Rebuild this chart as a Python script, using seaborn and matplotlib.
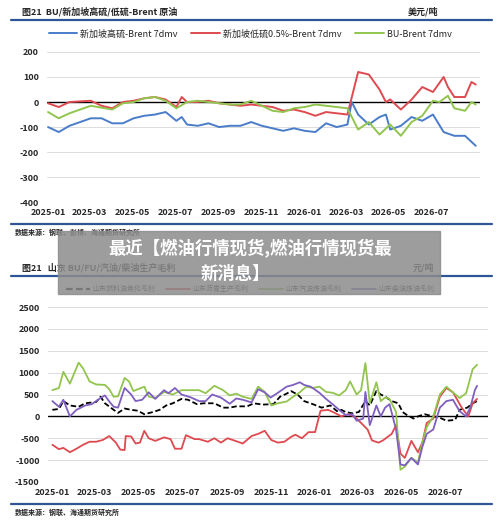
import numpy as np, pandas as pd
import matplotlib
matplotlib.use("Agg")
import matplotlib.pyplot as plt
import seaborn as sns

sns.set_style("white")
plt.rcParams['font.family'] = ['Noto Sans CJK SC', 'DejaVu Sans']
plt.rcParams['axes.unicode_minus'] = False

# ---- top chart data (months since 2025-01, USD/t) ----
hs_m = [0,.5,1,1.5,2,2.5,3,3.5,4,4.5,5,5.5,6,6.25,6.5,7,7.5,8,8.5,9,9.5,10,10.5,11,11.5,12,12.5,13,13.5,14,14.2,14.5,15,15.5,15.8,16,16.5,17,17.5,18,18.5,19,19.5,20]
hs_v = [-100,-120,-95,-80,-65,-65,-85,-85,-65,-55,-50,-40,-75,-60,-90,-95,-85,-100,-95,-95,-80,-95,-105,-115,-105,-115,-120,-85,-100,-90,0,-50,-90,-60,-50,-110,-95,-60,-75,-50,-120,-135,-135,-175]
ls_m = [0,.5,1,2,2.5,3,3.5,4,4.5,5,5.5,6,6.25,6.5,7,7.5,8,8.5,9,9.5,10,10.5,11,11.5,12,12.5,13,13.5,14,14.5,15,15.5,15.8,16,16.5,17,17.5,18,18.5,18.7,19,19.5,19.8,20]
ls_v = [-5,-20,0,5,-15,-25,0,5,15,20,10,-20,20,0,0,5,-5,-10,-15,-10,-15,-20,-35,-30,-40,-55,-40,-45,-50,120,110,50,0,10,-30,10,60,40,100,60,20,20,80,70]
bu_m = [0,.5,1,1.5,2,3,3.5,4,4.5,5,5.5,6,6.5,7,7.5,8,8.5,9,9.5,10,10.5,11,11.5,12,12.5,13,13.5,14,14.5,15,15.5,16,16.5,17,17.5,18,18.3,18.7,19,19.5,19.8,20]
bu_v = [-40,-65,-45,-30,-15,-30,-5,0,15,20,5,-25,0,5,0,-5,-10,-10,5,-15,-35,-40,-25,-20,-10,-15,-20,-25,-110,-80,-130,-90,-135,-80,-55,5,0,25,-25,-35,0,-10]
top_names = ['新加坡高硫-Brent 7dmv', '新加坡低硫0.5%-Brent 7dmv', 'BU-Brent 7dmv']

# ---- bottom chart data (months since 2025-01, CNY/t) ----
gas_m = [0,.3,.5,.8,1.2,1.4,1.7,2.0,2.4,2.6,2.8,3.0,3.3,3.5,3.7,4.2,4.4,4.7,5.1,5.5,5.9,6.2,6.7,7.0,7.4,7.8,8.1,8.4,8.7,9.1,9.4,9.7,10.0,10.3,10.7,11.0,11.3,11.6,11.9,12.2,12.5,12.8,13.1,13.4,13.6,13.9,14.1,14.3,14.5,14.8,15.0,15.2,15.4,15.7,15.9,16.1,16.4,16.7,16.9,17.1,17.4,17.7,18.0,18.3,18.6,18.9,19.2,19.4]
gas_v = [600,650,1020,750,1230,1100,800,730,720,620,450,460,880,800,580,680,450,420,560,500,600,600,600,530,700,600,480,520,450,400,680,560,250,300,340,450,550,680,650,680,560,540,480,600,800,500,600,1220,300,780,350,430,400,100,-1220,-1150,-950,-1050,-600,-250,0,500,680,550,420,530,1080,1180]
die_m = [0,.3,.5,.8,1.1,1.5,1.8,2.2,2.4,2.6,2.8,3.0,3.3,3.6,3.8,4.1,4.4,4.7,5.1,5.3,5.6,5.9,6.3,6.7,7.0,7.3,7.7,8.1,8.4,8.7,9.1,9.4,9.7,9.97,10.3,10.7,11.0,11.3,11.5,11.8,12.2,12.5,12.8,13.1,13.4,13.7,13.9,14.2,14.3,14.5,14.8,15.0,15.2,15.4,15.7,15.9,16.1,16.4,16.7,16.9,17.1,17.4,17.7,18.0,18.3,18.6,18.9,19.1,19.3,19.4]
die_v = [350,220,380,0,150,250,280,420,480,340,220,200,650,500,350,380,550,400,600,530,650,500,440,350,350,500,430,290,410,380,320,620,550,430,540,680,720,780,720,680,540,400,280,150,30,50,-100,-50,560,-200,250,0,200,280,-300,-1100,-1120,-950,-1100,-700,-400,-300,200,350,380,120,0,220,600,700]
asp_m = [0,.3,.5,.8,1.1,1.4,1.7,2.0,2.3,2.6,2.9,3.1,3.3,3.35,3.6,3.8,4.0,4.2,4.4,4.7,5.1,5.4,5.6,5.9,6.1,6.5,6.7,7.1,7.4,7.7,8.0,8.3,8.7,9.1,9.4,9.7,10.0,10.3,10.6,10.9,11.1,11.4,11.7,12.0,12.25,12.6,12.9,13.2,13.5,13.8,14.1,14.4,14.6,14.9,15.1,15.5,15.7,15.9,16.1,16.4,16.7,16.9,17.1,17.4,17.7,18.0,18.3,18.7,19.0,19.2,19.4]
asp_v = [-650,-750,-720,-820,-740,-650,-580,-580,-540,-450,-600,-760,-770,-450,-460,-620,-600,-330,-500,-560,-480,-520,-740,-740,-430,-520,-520,-580,-500,-600,-500,-550,-620,-450,-400,-330,-540,-600,-580,-470,-420,-500,-360,-360,130,150,80,0,50,0,-150,-300,-550,-600,-550,-400,-200,-850,-950,-560,-820,-600,-150,-50,450,650,550,200,0,300,400]
fu_m = [0,.3,.5,.8,1.2,1.5,2.0,2.2,2.4,2.8,3.0,3.3,3.6,3.9,4.2,4.6,4.9,5.2,5.5,5.9,6.2,6.6,6.9,7.4,7.8,8.1,8.4,8.9,9.2,9.6,10.1,10.4,10.7,10.9,11.2,11.5,11.9,12.3,12.7,13.0,13.2,13.4,13.7,14.0,14.3,14.5,14.8,15.0,15.2,15.5,15.8,16.0,16.2,16.5,16.7,17.0,17.4,17.7,18.0,18.4,18.6,18.95,19.2,19.4]
fu_v = [150,170,350,250,220,300,330,450,300,150,80,180,150,130,50,100,150,250,300,400,380,280,300,300,200,200,230,230,300,270,280,450,520,580,500,350,280,200,250,120,150,100,70,100,350,250,580,500,450,350,300,100,30,-50,0,50,0,-30,-100,-80,150,200,300,350]
bot_names = ['山东燃料油焦化毛利', '山东沥青生产毛利', '山东汽油炼油毛利', '山东柴油炼油毛利']
tick_months = ['2025-01', '2025-03', '2025-05', '2025-07', '2025-09', '2025-11', '2026-01', '2026-03', '2026-05', '2026-07']

BLUE, RED, GREEN, PURPLE = '#4a7cc9', '#de4a4f', '#92c54e', '#7f5fbf'
RULE = '#2f5597'

def todate(m):
    return pd.Timestamp('2025-01-01') + pd.to_timedelta(np.array(m) * 30.44, unit='D')

def frame(m, v, name):
    return pd.DataFrame({'date': todate(m), 'val': v, 'series': name})

fig = plt.figure(figsize=(5, 5.25), dpi=100)
fig.patch.set_facecolor('white')

def style_axes(ax, yt, xlim):
    ax.set_xlim(todate([xlim[0]])[0], todate([xlim[1]])[0])
    ax.set_yticks(yt)
    ax.set_ylim(yt[0], yt[-1])
    ax.yaxis.grid(True, color='#dcdcdc', lw=0.7)
    ax.set_xticks([pd.Timestamp(t + '-01') for t in tick_months])
    ax.set_xticklabels(tick_months)
    for s in ax.spines.values():
        s.set_visible(False)
    ax.axhline(0, color='black', lw=1.0, zorder=1)
    ax.tick_params(axis='x', length=0, labelsize=6.5, pad=4)
    ax.tick_params(axis='y', length=0, labelsize=6.5, pad=6)
    for t in ax.get_xticklabels() + ax.get_yticklabels():
        t.set_fontweight('bold')
    ax.set_xlabel(''); ax.set_ylabel('')
    if ax.get_legend():
        ax.get_legend().remove()

ax1 = fig.add_axes([0.094, 0.615, 0.866, 0.286])
df1 = pd.concat([frame(hs_m, hs_v, top_names[0]), frame(ls_m, ls_v, top_names[1]), frame(bu_m, bu_v, top_names[2])])
sns.lineplot(data=df1, x='date', y='val', hue='series', palette=[BLUE, RED, GREEN], lw=1.4, ax=ax1)
style_axes(ax1, [-400, -300, -200, -100, 0, 100, 200], (-0.05, 20.2))
h1 = [plt.Line2D([], [], color=c, lw=1.4) for c in [BLUE, RED, GREEN]]
fig.legend(h1, top_names, loc='center', bbox_to_anchor=(0.5, 1 - 34/525), ncol=3, frameon=False,
           fontsize=6.5, handlelength=3.2, columnspacing=1.5, handletextpad=0.3)

ax2 = fig.add_axes([0.096, 0.082, 0.88, 0.333])
df2 = pd.concat([frame(fu_m, fu_v, bot_names[0]), frame(asp_m, asp_v, bot_names[1]),
                 frame(gas_m, gas_v, bot_names[2]), frame(die_m, die_v, bot_names[3])])
sns.lineplot(data=df2, x='date', y='val', hue='series', style='series',
             palette=['black', RED, GREEN, PURPLE], dashes=[(3, 1.5), '', '', ''], lw=1.3, ax=ax2)
style_axes(ax2, [-1500, -1000, -500, 0, 500, 1000, 1500, 2000, 2500], (-0.2, 19.9))
h2 = [plt.Line2D([], [], color='black', lw=1.6, ls=(0, (3, 1.5)))] + \
     [plt.Line2D([], [], color=c, lw=1.4) for c in [RED, GREEN, PURPLE]]
fig.legend(h2, bot_names, loc='center', bbox_to_anchor=(0.5, 1 - 289/525), ncol=4, frameon=False,
           fontsize=5, handlelength=3.5, columnspacing=1.5, handletextpad=0.3)

def hline(y, lw=1.6):
    fig.add_artist(plt.Line2D([0.022, 0.984], [1 - y/525, 1 - y/525], color=RULE, lw=lw))

fig.text(0.045, 1 - 12/525, '图21  BU/新加坡高硫/低硫-Brent 原油', fontsize=6.5, fontweight='bold', va='center')
fig.text(0.815, 1 - 12/525, '美元/吨', fontsize=6.5, fontweight='bold', va='center')
hline(20)
hline(224)
fig.text(0.03, 1 - 232/525, '数据来源：钢联、彭博、海通期货研究所', fontsize=5, fontweight='bold', va='center')
fig.text(0.045, 1 - 268/525, '图21   山东 BU/FU/汽油/柴油生产毛利', fontsize=6.5, fontweight='bold', va='center')
fig.text(0.825, 1 - 268/525, '元/吨', fontsize=6.5, fontweight='bold', va='center')
hline(276)
hline(504)
fig.text(0.03, 1 - 512/525, '数据来源：钢联、海通期货研究所', fontsize=5, fontweight='bold', va='center')

fig.add_artist(plt.Rectangle((0.116, 1 - 294/525), 0.764, 63/525, color='#8c8c8c', alpha=0.85, zorder=10))
fig.text(0.5, 1 - 248/525, '最近【燃油行情现货,燃油行情现货最', fontsize=12.5, fontweight='bold',
         color='white', ha='center', va='center', zorder=11)
fig.text(0.47, 1 - 274/525, '新消息】', fontsize=12.5, fontweight='bold',
         color='white', ha='center', va='center', zorder=11)

fig.savefig('out.png', dpi=100)
